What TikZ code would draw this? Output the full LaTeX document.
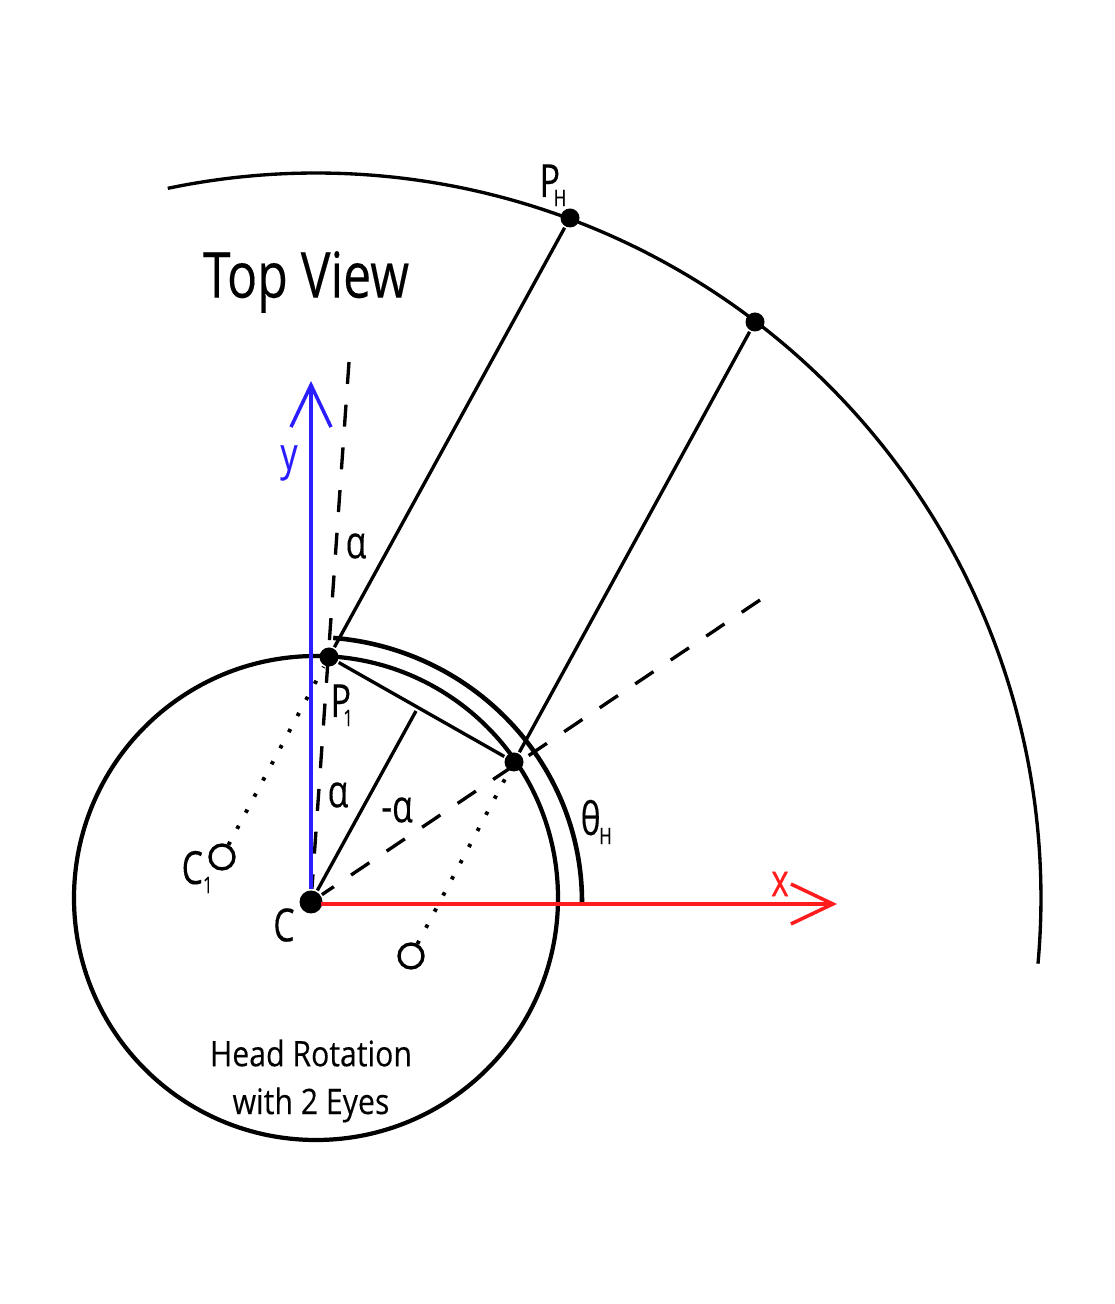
\documentclass[tikz,border=0pt]{standalone}
\usepackage{fontspec}
\setmainfont[FakeStretch=0.74,FakeBold=0.2]{Open Sans}
\newfontfamily\titlefont[FakeStretch=0.79,FakeBold=0.2]{Open Sans}
\newfontfamily\capfont[FakeStretch=0.86,FakeBold=0.2]{Open Sans}
\usetikzlibrary{arrows.meta}
\definecolor{axisblue}{RGB}{42,30,255}
\definecolor{axisred}{RGB}{255,28,28}
\newcommand{\lowsub}[2][0pt]{\hspace{#1}\raisebox{-2.6pt}{\fontsize{6.5pt}{8pt}\selectfont #2}}
\tikzset{
	dot/.style={circle,fill=black,inner sep=0pt,minimum size=.19cm},
	eye/.style={circle,draw=black,line width=.95pt,fill=white,inner sep=0pt,minimum size=.24cm},
	lbl/.style={inner sep=0pt,font=\fontsize{13pt}{15pt}\selectfont},
	longdash/.style={dash pattern=on .22cm off .208cm},
	eyeline/.style={line width=1.1pt,dash pattern=on 1pt off 4.2pt},
	openhead/.style={line width=1pt,-{Straight Barb[length=.42cm,width=.4cm]}}
}
\begin{document}
\begin{tikzpicture}[>=latex,line width=.95pt]
	\useasboundingbox (0,0) rectangle (11.15,13.04);
	\coordinate (H) at (3.16,4.06);
	\coordinate (C0) at (3.11,4.02);
	\coordinate (ye) at (3.11,9.23);
	\coordinate (xo) at (3.21,4.00);
	\coordinate (xe) at (8.37,4.00);
	\coordinate (dy) at (3.49,9.42);
	\coordinate (dx) at (7.60,7.04);
	\coordinate (mid) at (4.16,5.93);

	% outer and head arcs
	\draw (H) ++(101.8:7.25) arc (101.8:-5.2:7.25);
	\draw[line width=1.2pt] (H) circle (2.42);
	\draw[line width=1.3pt] (C0) ++(2.71,0) arc [start angle=0,end angle=85.3,x radius=2.71,y radius=2.65];

	\node[dot] (PH) at (5.70,10.86) {};
	\node[dot] (Q) at (7.55,9.82) {};
	\node[dot] (P1) at (3.29,6.47) {};
	\node[dot] (P2) at (5.14,5.42) {};
	\node[dot,minimum size=.23cm] (C) at (C0) {};
	\node[eye] (E1) at (2.22,4.47) {};
	\node[eye] (E2) at (4.11,3.48) {};

	\draw (P1) -- (PH);
	\draw (P2) -- (Q);
	\draw (P1) -- (P2);
	\draw (C) -- (mid);
	\draw[longdash] (dy) -- (C);
	\draw[longdash] (dx) -- (C);
	\draw[eyeline] (E1) -- (P1);
	\draw[eyeline] (E2) -- (P2);

	\draw[openhead,axisblue] (C) -- (ye);
	\draw[openhead,axisred] (xo) -- (xe);

	\node[inner sep=0pt,font=\titlefont\fontsize{18pt}{22pt}\selectfont] (title) at (3.06,10.22) {Top View};
	\node[lbl,anchor=base west] (lPH) at (5.38,11.07) {P\lowsub[-1.8pt]{H}};
	\node[lbl,axisblue] (ly) at (2.89,8.41) {y};
	\node[lbl] (a1) at (3.56,7.58) {α};
	\node[lbl,anchor=base west] (lP1) at (3.29,5.87) {P\lowsub[-2.2pt]{1}};
	\node[lbl] (a2) at (3.38,5.09) {α};
	\node[lbl] (a3) at (3.97,4.94) {-α};
	\node[lbl,anchor=base west] (th) at (5.79,4.69) {θ\lowsub[-.4pt]{H}};
	\node[lbl,axisred] (lx) at (7.80,4.20) {x};
	\node[lbl,anchor=base west] (lC1) at (1.80,4.20) {C\lowsub{1}};
	\node[lbl] (lC) at (2.84,3.79) {C};
	\node[inner sep=0pt,font=\capfont\fontsize{10pt}{13.6pt}\selectfont,align=center] (cap) at (3.11,2.23) {Head Rotation\\with 2 Eyes};
\end{tikzpicture}
\end{document}
